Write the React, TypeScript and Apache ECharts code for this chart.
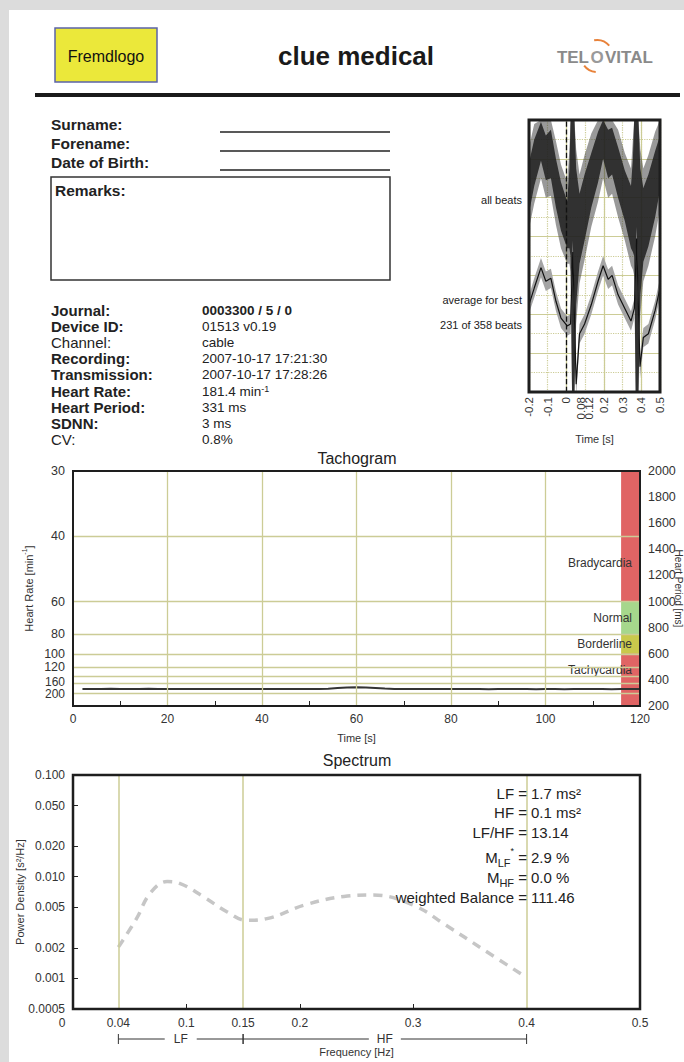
import React, { useEffect, useRef } from "react";
import * as echarts from "echarts";

const FONT = '"Liberation Sans", Arial, Helvetica, sans-serif';
const OLIVE = "#cccc96";
const INK = "#222222";

// ---------- header / patient data ----------
const patientFields = ["Surname:", "Forename:", "Date of Birth:"];
const journalLabels = ["Journal:", "Device ID:", "Channel:", "Recording:", "Transmission:", "Heart Rate:", "Heart Period:", "SDNN:", "CV:"];
const journalValues = ["0003300 / 5 / 0", "01513 v0.19", "cable", "2007-10-17 17:21:30", "2007-10-17 17:28:26", "181.4 min{sup|-1}", "331 ms", "3 ms", "0.8%"];
const regularLabels = ["Channel:", "CV:"];

// ---------- beats panel ----------
const beatTickValues = [-0.2, -0.1, 0, 0.08, 0.12, 0.2, 0.3, 0.4, 0.5];
const avgTime = [-0.2, -0.172, -0.136, -0.11, -0.083, -0.056, -0.029, 0.004, 0.022, 0.034, 0.052, 0.07, 0.097, 0.133, 0.169, 0.196, 0.223, 0.244, 0.276, 0.312, 0.345, 0.363, 0.375, 0.393, 0.411, 0.438, 0.474, 0.5];
const avgBeat = [4.5, 5.35, 6.4, 5.7, 5.85, 4.67, 3.8, 3.4, 3.5, 7.2, 0.4, 3.0, 3.5, 4.5, 5.7, 6.5, 5.8, 6.0, 5.0, 4.3, 3.65, 4.3, 7.9, 1.3, 2.8, 3.0, 4.2, 5.35];
const avgSpread = [0.45, 0.5, 0.5, 0.5, 0.5, 0.5, 0.5, 0.5, 0.5, 0.6, 0.6, 0.5, 0.5, 0.5, 0.5, 0.5, 0.5, 0.5, 0.5, 0.5, 0.5, 0.5, 0.6, 0.6, 0.5, 0.5, 0.5, 0.5];
const allTime = [-0.2, -0.172, -0.136, -0.11, -0.083, -0.056, -0.029, 0.004, 0.016, 0.022, 0.03, 0.043, 0.052, 0.07, 0.097, 0.133, 0.169, 0.196, 0.223, 0.244, 0.276, 0.312, 0.345, 0.355, 0.362, 0.37, 0.385, 0.395, 0.411, 0.438, 0.474, 0.5];
const allHigh = [11.8, 13.0, 13.9, 13.2, 13.5, 12.0, 10.8, 9.8, 11.5, 14, 14, 14, 11.5, 10.2, 11.2, 12.3, 13.4, 14, 13.5, 13.6, 12.6, 11.4, 10.6, 12, 14, 14, 14, 11.5, 10.5, 11.2, 12.4, 13.2];
const allLow = [9.2, 10.6, 11.9, 10.9, 11.0, 9.5, 8.3, 7.4, 7.4, 7.0, 0, 0, 4.5, 6.6, 7.8, 9.5, 10.8, 12.0, 11.0, 11.2, 10.0, 8.8, 7.4, 7.2, 7.0, 0, 0, 5.0, 6.7, 7.5, 9.0, 10.4];
const allOuterHigh = [12.6, 13.8, 14, 14, 14, 12.9, 11.7, 10.8, 12.5, 14, 14, 14, 12.5, 11.2, 12.2, 13.3, 14, 14, 14, 14, 13.5, 12.3, 11.5, 13, 14, 14, 14, 12.5, 11.5, 12.2, 13.4, 14];
const allOuterLow = [8.4, 9.7, 11.0, 10.0, 10.1, 8.6, 7.4, 6.6, 6.6, 6.2, 0, 0, 3.5, 5.6, 6.8, 8.5, 9.8, 11.0, 10.0, 10.2, 9.0, 7.8, 6.5, 6.3, 6.0, 0, 0, 4.0, 5.7, 6.5, 8.0, 9.4];

// ---------- tachogram ----------
const tachoTime = [2, 4, 6, 8, 10, 12, 14, 16, 18, 20, 22, 24, 26, 28, 30, 32, 34, 36, 38, 40, 42, 44, 46, 48, 50, 52, 54, 56, 58, 60, 62, 64, 66, 68, 70, 72, 74, 76, 78, 80, 82, 84, 86, 88, 90, 92, 94, 96, 98, 100, 102, 104, 106, 108, 110, 112, 114, 116, 118, 120];
const tachoPeriod = [330, 331, 330, 332, 331, 330, 331, 332, 331, 330, 331, 330, 331, 330, 330, 331, 330, 331, 330, 330, 331, 330, 330, 331, 330, 331, 333, 338, 342, 343, 341, 338, 334, 331, 330, 331, 330, 330, 331, 330, 330, 331, 330, 329, 330, 331, 330, 330, 329, 330, 330, 329, 330, 330, 331, 330, 329, 330, 330, 330];
const hrTickLabels = [30, 40, 60, 80, 100, 120, 200];
const hrTickLabelsExtra = [160];
const hrGridLines = [40, 60, 80, 100, 120, 140, 160, 200];
const tachoGridTimes = [20, 40, 60, 80, 100];
const tachoLabelTimes = [0, 20, 40, 60, 80, 100, 120];
const zoneNames = ["Bradycardia", "Normal", "Borderline", "Tachycardia"];
const zoneHrFrom = [30, 60, 80, 100];
const zoneHrTo = [60, 80, 100, 300];
const zoneColors = ["#e06464", "#a6d78c", "#c9c94c", "#e06464"];
const zoneLabelShift = [27, 0, 0, -10];
const zoneStartTime = 116;

// ---------- spectrum ----------
const specFreq = [0.04, 0.056, 0.068, 0.083, 0.094, 0.115, 0.136, 0.153, 0.171, 0.204, 0.239, 0.265, 0.3, 0.329, 0.361, 0.4];
const specPower = [0.00203, 0.00387, 0.00686, 0.00895, 0.0086, 0.00635, 0.0045, 0.00372, 0.00387, 0.00525, 0.0064, 0.0066, 0.00525, 0.00333, 0.00195, 0.00102];
const specTickValues = [0.1, 0.05, 0.02, 0.01, 0.005, 0.002, 0.001, 0.0005];
const specTickLabels = ["0.100", "0.050", "0.020", "0.010", "0.005", "0.002", "0.001", "0.0005"];
const freqLabelValues = [0, 0.04, 0.1, 0.15, 0.2, 0.3, 0.4, 0.5];
const freqTickValues = [0.1, 0.2, 0.3];
const freqGridLines = [0.04, 0.15, 0.4];
const bandNames = ["LF", "HF"];
const bandStart = [0.04, 0.15];
const bandEnd = [0.15, 0.4];
const statLabels = ["LF =", "HF =", "LF/HF =", "{m|M}{sub|LF}{sup|*}{m| =}", "{m|M}{sub|HF}{m| =}", "weighted Balance ="];
const statValues = ["1.7 ms²", "0.1 ms²", "13.14", "2.9 %", "0.0 %", "111.46"];

function txt(text: string, x: number, y: number, size: number, opts: any = {}) {
  return {
    type: "text",
    x,
    y,
    z: 50,
    silent: true,
    style: {
      text,
      fontSize: size,
      fontFamily: FONT,
      fontWeight: opts.bold ? "bold" : "normal",
      fill: opts.fill || INK,
      align: opts.align || "left",
      verticalAlign: "middle",
      rich: opts.rich,
    },
  };
}

function bandSeries(times: number[], hi: number[], lo: number[], fill: string, opacity: number, z: number) {
  return {
    type: "custom",
    xAxisIndex: 0,
    yAxisIndex: 0,
    z,
    silent: true,
    clip: true,
    data: [[times[0], hi[0]]],
    renderItem: (_p: any, api: any) => {
      const pts: number[][] = [];
      for (let i = 0; i < times.length; i++) pts.push(api.coord([times[i], hi[i]]));
      for (let i = times.length - 1; i >= 0; i--) pts.push(api.coord([times[i], lo[i]]));
      return { type: "polygon", shape: { points: pts }, style: { fill, opacity } };
    },
  };
}

function buildOption() {
  const graphics: any[] = [];
  graphics.push({ type: "rect", z: -10, silent: true, shape: { x: 9, y: 10, width: 700, height: 1100 }, style: { fill: "#ffffff" } });
  // header
  graphics.push({ type: "rect", z: 40, shape: { x: 55, y: 28, width: 102, height: 54 }, style: { fill: "#ebe83a", stroke: "#5b63a8", lineWidth: 1.5 } });
  graphics.push(txt("Fremdlogo", 106, 56, 16, { align: "center", fill: "#111" }));
  graphics.push(txt("clue medical", 356, 56, 26, { align: "center", bold: true, fill: "#1a1a1a" }));
  graphics.push(txt("TEL", 589, 57, 17, { align: "right", bold: true, fill: "#8a8a8a" }));
  graphics.push(txt("O", 597, 57, 17, { align: "center", bold: true, fill: "#9a9a9a" }));
  graphics.push(txt("VITAL", 605, 57, 17, { align: "left", bold: true, fill: "#8a8a8a" }));
  graphics.push({ type: "arc", z: 45, shape: { cx: 597, cy: 56, r: 16, startAngle: -1.75, endAngle: -0.7 }, style: { stroke: "#e8823a", lineWidth: 2, fill: "none" } });
  graphics.push({ type: "arc", z: 45, shape: { cx: 597, cy: 56, r: 16, startAngle: 1.65, endAngle: 2.5 }, style: { stroke: "#e8823a", lineWidth: 2, fill: "none" } });
  graphics.push({ type: "rect", z: 40, shape: { x: 35, y: 93, width: 645, height: 4 }, style: { fill: "#1a1a1a" } });

  // patient block
  patientFields.forEach((f, i) => {
    graphics.push(txt(f, 51, 124 + i * 19, 15.5, { bold: true }));
    graphics.push({ type: "line", z: 40, shape: { x1: 220, y1: 132 + i * 19, x2: 390, y2: 132 + i * 19 }, style: { stroke: INK, lineWidth: 1.5 } });
  });
  graphics.push({ type: "rect", z: 40, shape: { x: 51, y: 177, width: 339, height: 103 }, style: { fill: "none", stroke: "#333", lineWidth: 1.5 } });
  graphics.push(txt("Remarks:", 55, 190, 15.5, { bold: true }));

  journalLabels.forEach((l, i) => {
    const y = 310 + i * 16.2;
    graphics.push(txt(l, 51, y, 15, { bold: regularLabels.indexOf(l) < 0 }));
    graphics.push(
      txt(journalValues[i], 202, y, 13.5, {
        bold: i === 0,
        rich: { sup: { fontSize: 9, verticalAlign: "top", fontFamily: FONT, fill: INK } },
      })
    );
  });

  // beats labels
  graphics.push(txt("all beats", 522, 200, 11, { align: "right" }));
  graphics.push(txt("average for best", 522, 300, 11, { align: "right" }));
  graphics.push(txt("231 of 358 beats", 522, 325, 11, { align: "right" }));

  // titles
  graphics.push(txt("Tachogram", 357, 458, 16, { align: "center" }));
  graphics.push(txt("Spectrum", 357, 760, 16, { align: "center" }));

  // spectrum stats
  const statY = [793, 812, 832, 857, 877, 897];
  statLabels.forEach((l, i) => {
    graphics.push(
      txt(l, 527, statY[i], 15, {
        align: "right",
        rich: {
          m: { fontSize: 15, fontFamily: FONT, fill: INK, lineHeight: 22 },
          sub: { fontSize: 11, fontFamily: FONT, fill: INK, verticalAlign: "bottom" },
          sup: { fontSize: 9, fontFamily: FONT, fill: INK, verticalAlign: "top" },
        },
      })
    );
    graphics.push(txt(statValues[i], 531, statY[i], 15, { align: "left" }));
  });

  const axisText = { fontFamily: FONT, fontSize: 12, color: "#333" };
  const gridBase = { show: true, borderColor: "#1e1e1e", z: 10, outerBoundsMode: "none", containLabel: false };
  const hrRich = {
    up: { fontFamily: FONT, fontSize: 12, color: "#333", padding: [0, 0, 3, 0] },
    dn: { fontFamily: FONT, fontSize: 12, color: "#333", padding: [3, 0, 0, 0] },
    n: { fontFamily: FONT, fontSize: 12.5, color: "#333" },
  };
  const hrLabelAxis = (values: number[], withName: boolean) => ({
    gridIndex: 1, type: "value", position: "left", min: 200, max: 2000,
    axisLine: { show: false }, axisTick: { show: false }, splitLine: { show: false },
    axisLabel: {
      ...axisText, fontSize: 12.5, margin: 8, hideOverlap: false, showMinLabel: true, showMaxLabel: true,
      customValues: values.map((h) => 60000 / h),
      formatter: (v: number) => {
        const hr = Math.round(60000 / v);
        if (hr === 160) return "{up|160}";
        if (hr === 200) return "{dn|200}";
        return "{n|" + hr + "}";
      },
      rich: hrRich,
    },
    ...(withName
      ? {
          name: "Heart Rate [min{sup|-1}]", nameLocation: "middle", nameGap: 36, nameRotate: 90, nameMoveOverlap: false,
          nameTextStyle: { ...axisText, fontSize: 11, lineHeight: 16, rich: { sup: { fontFamily: FONT, fontSize: 7, color: "#333", verticalAlign: "top" } } },
        }
      : {}),
  });

  const option: any = {
    animation: false,
    backgroundColor: "#dcdcdc",
    textStyle: { fontFamily: FONT },
    graphic: graphics,
    grid: [
      { ...gridBase, left: 529, top: 120, width: 131, height: 272, borderWidth: 3 },
      { ...gridBase, left: 73, top: 471, width: 567, height: 235, borderWidth: 2 },
      { ...gridBase, left: 73, top: 775, width: 567, height: 234, borderWidth: 2.5 },
      { left: 73, top: 1033, width: 567, height: 12, show: false, outerBoundsMode: "none" },
    ],
    xAxis: [
      {
        gridIndex: 0, type: "value", min: -0.2, max: 0.5, interval: 0.1,
        axisLine: { show: false }, axisTick: { show: false },
        axisLabel: { ...axisText, fontSize: 11.5, rotate: 90, margin: 5, hideOverlap: false, customValues: beatTickValues, formatter: (v: number) => String(Math.round(v * 100) / 100) },
        splitLine: { show: true, lineStyle: { color: OLIVE, type: "dotted", width: 1.2 } },
        name: "Time [s]", nameLocation: "middle", nameGap: 41, nameTextStyle: { ...axisText, fontSize: 11 },
      },
      {
        gridIndex: 0, type: "value", min: -0.2, max: 0.5, interval: 0.2,
        axisLine: { show: false }, axisTick: { show: false }, axisLabel: { show: false },
        splitLine: { show: true, lineStyle: { color: OLIVE, width: 1.2 } },
      },
      {
        gridIndex: 1, type: "value", min: 0, max: 120, interval: 10,
        axisLine: { show: false },
        axisTick: { show: true, inside: true, length: 5, lineStyle: { color: INK } },
        axisLabel: { ...axisText, customValues: tachoLabelTimes, margin: 7 },
        splitLine: { show: false },
        name: "Time [s]", nameLocation: "middle", nameGap: 26, nameTextStyle: { ...axisText, fontSize: 11 },
      },
      {
        gridIndex: 2, type: "value", min: 0, max: 0.5,
        axisLine: { show: false },
        axisTick: { show: true, inside: true, length: 5, customValues: freqTickValues, lineStyle: { color: INK } },
        axisLabel: {
          ...axisText, margin: 8, customValues: freqLabelValues,
          formatter: (v: number) => (v === 0 ? "{z|0}" : String(Math.round(v * 100) / 100)),
          rich: { z: { ...axisText, padding: [0, 22, 0, 0] } },
        },
        splitLine: { show: false },
        name: "Frequency [Hz]", nameLocation: "middle", nameGap: 37, nameTextStyle: { ...axisText, fontSize: 11 },
      },
      { gridIndex: 3, type: "value", min: 0, max: 0.5, show: false },
    ],
    yAxis: [
      {
        gridIndex: 0, type: "value", min: 0, max: 14, interval: 1,
        axisLine: { show: false }, axisTick: { show: false }, axisLabel: { show: false },
        splitLine: { show: true, lineStyle: { color: OLIVE, type: "dotted", width: 1.2 } },
      },
      {
        gridIndex: 0, type: "value", min: 0, max: 14, interval: 2,
        axisLine: { show: false }, axisTick: { show: false }, axisLabel: { show: false },
        splitLine: { show: true, lineStyle: { color: OLIVE, width: 1.2 } },
      },
      hrLabelAxis(hrTickLabels, true),
      {
        gridIndex: 1, type: "value", position: "right", min: 200, max: 2000, interval: 200,
        axisLine: { show: false },
        axisTick: { show: true, inside: true, length: 4, lineStyle: { color: INK } },
        splitLine: { show: false },
        axisLabel: { ...axisText, fontSize: 12.5, margin: 8, hideOverlap: false, formatter: (v: number) => String(v) },
        name: "Heart Period [ms]", nameLocation: "middle", nameGap: 33, nameRotate: -90, nameMoveOverlap: false,
        nameTextStyle: { ...axisText, fontSize: 10 },
      },
      {
        gridIndex: 2, type: "value", min: Math.log10(0.0005), max: -1,
        axisLine: { show: false },
        axisTick: { show: true, inside: true, length: 5, customValues: specTickValues.map((p) => Math.log10(p)), lineStyle: { color: INK } },
        splitLine: { show: false },
        axisLabel: {
          ...axisText, margin: 8, hideOverlap: false, customValues: specTickValues.map((p) => Math.log10(p)),
          formatter: (v: number) => {
            let best = 0;
            specTickValues.forEach((p, i) => {
              if (Math.abs(Math.log10(p) - v) < Math.abs(Math.log10(specTickValues[best]) - v)) best = i;
            });
            return specTickLabels[best];
          },
        },
        name: "Power Density [s²/Hz]", nameLocation: "middle", nameGap: 48, nameRotate: 90, nameMoveOverlap: false,
        nameTextStyle: { ...axisText, fontSize: 11 },
      },
      { gridIndex: 3, type: "value", min: -1, max: 1, show: false },
      hrLabelAxis(hrTickLabelsExtra, false),
    ],
    series: [
      // beats
      bandSeries(allTime, allOuterHigh, allOuterLow, "#333333", 0.5, 2),
      bandSeries(allTime, allHigh, allLow, "#1e1e1e", 0.85, 3),
      bandSeries(avgTime, avgBeat.map((v, i) => v + avgSpread[i]), avgBeat.map((v, i) => v - avgSpread[i]), "#a4a4a4", 1, 4),
      {
        type: "line", xAxisIndex: 0, yAxisIndex: 0, z: 5, silent: true, symbol: "none",
        data: avgTime.map((t, i) => [t, avgBeat[i]]),
        lineStyle: { color: "#111", width: 1.2 },
        markLine: {
          silent: true, symbol: ["none", "none"], label: { show: false },
          lineStyle: { color: "#111", type: "dashed", width: 1.3 },
          data: [{ xAxis: 0 }],
        },
      },
      // tachogram grid
      {
        type: "line", xAxisIndex: 2, yAxisIndex: 3, z: 1, silent: true, data: [],
        markLine: {
          silent: true, symbol: ["none", "none"], label: { show: false },
          lineStyle: { color: OLIVE, type: "solid", width: 1.3 },
          data: [...tachoGridTimes.map((t) => ({ xAxis: t })), ...hrGridLines.map((h) => ({ yAxis: 60000 / h }))],
        },
      },
      {
        type: "line", xAxisIndex: 2, yAxisIndex: 3, z: 2, silent: true, data: [],
        markArea: {
          silent: true,
          data: zoneNames.map((n, i) => [
            {
              name: n,
              xAxis: zoneStartTime,
              yAxis: 60000 / zoneHrFrom[i],
              itemStyle: { color: zoneColors[i], opacity: 1 },
              label: { show: true, position: "insideRight", distance: 8, offset: [0, zoneLabelShift[i]], color: "#333", fontSize: 12, fontFamily: FONT },
            },
            { xAxis: 120, yAxis: 60000 / zoneHrTo[i] },
          ]),
        },
      },
      {
        type: "line", xAxisIndex: 2, yAxisIndex: 3, z: 4, silent: true, symbol: "none",
        data: tachoTime.map((t, i) => [t, tachoPeriod[i]]),
        lineStyle: { color: "#333", width: 2 },
      },
      // spectrum
      {
        type: "line", xAxisIndex: 3, yAxisIndex: 4, z: 1, silent: true, data: [],
        markLine: {
          silent: true, symbol: ["none", "none"], label: { show: false },
          lineStyle: { color: OLIVE, type: "solid", width: 1.5 },
          data: freqGridLines.map((f) => ({ xAxis: f })),
        },
      },
      {
        type: "line", xAxisIndex: 3, yAxisIndex: 4, z: 3, silent: true, symbol: "none", smooth: 0.4,
        data: specFreq.map((f, i) => [f, Math.log10(specPower[i])]),
        lineStyle: { color: "#c6c6c6", width: 3.5, type: [9, 7] },
      },
      {
        type: "custom", xAxisIndex: 4, yAxisIndex: 5, z: 3, silent: true,
        data: bandNames.map((_n, i) => [bandStart[i], bandEnd[i]]),
        encode: { x: [0, 1] },
        renderItem: (params: any, api: any) => {
          const i = params.dataIndex;
          const s = api.coord([bandStart[i], 0]);
          const e = api.coord([bandEnd[i], 0]);
          const mid = (s[0] + e[0]) / 2;
          const y = s[1];
          const gap = 16;
          const st = { stroke: "#333", lineWidth: 1 };
          return {
            type: "group",
            children: [
              { type: "line", shape: { x1: s[0], y1: y, x2: mid - gap, y2: y }, style: st },
              { type: "line", shape: { x1: mid + gap, y1: y, x2: e[0], y2: y }, style: st },
              { type: "line", shape: { x1: s[0], y1: y - 5, x2: s[0], y2: y + 5 }, style: st },
              { type: "line", shape: { x1: e[0], y1: y - 5, x2: e[0], y2: y + 5 }, style: st },
              { type: "text", style: { text: bandNames[i], x: mid, y, align: "center", verticalAlign: "middle", fontSize: 12, fontFamily: FONT, fill: "#333" } },
            ],
          };
        },
      },
    ],
  };
  return option;
}

export default function App() {
  const ref = useRef<HTMLDivElement>(null);
  useEffect(() => {
    const chart = echarts.init(ref.current as HTMLDivElement, null, { renderer: "svg" });
    chart.setOption(buildOption());
    return () => chart.dispose();
  }, []);
  return <div ref={ref} style={{ position: "absolute", left: 0, top: 0, width: 684, height: 1062 }} />;
}
